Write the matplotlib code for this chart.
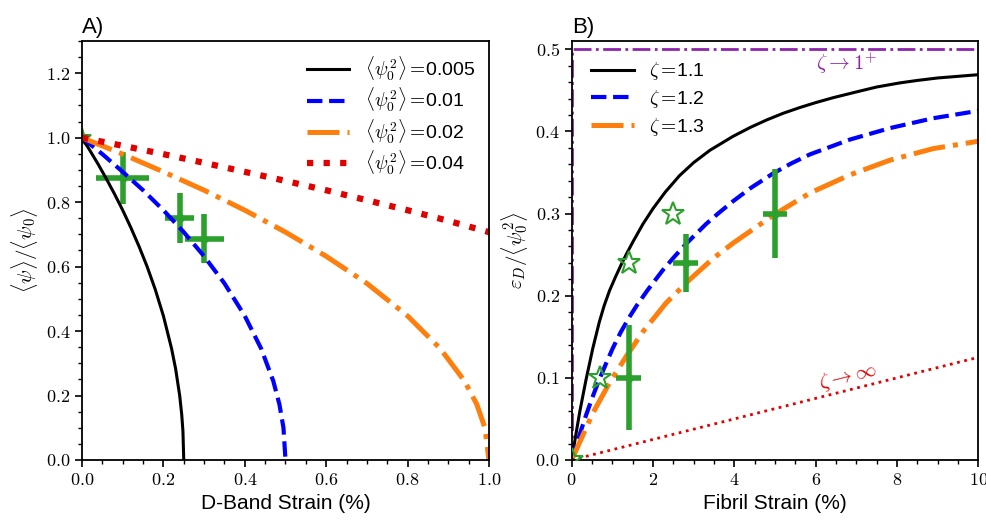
import matplotlib
matplotlib.use('Agg')
import matplotlib.pyplot as plt
from matplotlib.ticker import MultipleLocator, FuncFormatter

plt.rcParams['font.family'] = ['Liberation Sans', 'DejaVu Sans']
plt.rcParams['mathtext.fontset'] = 'cm'

# ---- panel A: order parameter vs D-band strain ----
psi0_labels = ['0.005', '0.01', '0.02', '0.04']

dband_x_005 = [0, 0.02, 0.04, 0.06, 0.08, 0.10, 0.12, 0.14, 0.16, 0.18, 0.20, 0.22, 0.23, 0.24, 0.245, 0.248, 0.25]
psi_ratio_005 = [1.0, 0.959, 0.917, 0.872, 0.825, 0.775, 0.721, 0.663, 0.600, 0.529, 0.447, 0.346, 0.283, 0.200, 0.141, 0.089, 0.0]

dband_x_01 = [0, 0.05, 0.10, 0.15, 0.20, 0.25, 0.30, 0.35, 0.40, 0.44, 0.47, 0.485, 0.495, 0.5]
psi_ratio_01 = [1.0, 0.949, 0.894, 0.837, 0.775, 0.707, 0.632, 0.548, 0.447, 0.346, 0.245, 0.173, 0.100, 0.0]

dband_x_02 = [0, 0.1, 0.2, 0.3, 0.4, 0.5, 0.6, 0.7, 0.8, 0.88, 0.94, 0.97, 0.99, 1.0]
psi_ratio_02 = [1.0, 0.949, 0.894, 0.837, 0.775, 0.707, 0.632, 0.548, 0.447, 0.346, 0.245, 0.173, 0.100, 0.0]

dband_x_04 = [0, 0.1, 0.2, 0.3, 0.4, 0.5, 0.6, 0.7, 0.8, 0.9, 1.0]
psi_ratio_04 = [1.0, 0.975, 0.949, 0.922, 0.894, 0.866, 0.837, 0.806, 0.775, 0.742, 0.707]

# experimental points in A
exp_a_x = [0.10, 0.24, 0.30]
exp_a_y = [0.875, 0.75, 0.687]
exp_a_xerr = [0.065, 0.035, 0.048]
exp_a_yerr = [0.08, 0.077, 0.075]

# ---- panel B: D-band strain / <psi0^2> vs fibril strain ----
zeta_labels = ['1.1', '1.2', '1.3']

fib_x_11 = [0, 0.1, 0.2, 0.35, 0.52, 0.68, 0.8, 0.93, 1.07, 1.21, 1.35, 1.5, 1.75, 2.0, 2.3, 2.65,
            3.0, 3.4, 3.97, 4.4, 4.8, 5.2, 5.61, 6.0, 6.43, 7.0, 7.5, 8.07, 8.5, 9.0, 9.5, 10]
eps_11 = [0.0, 0.03, 0.059, 0.097, 0.136, 0.168, 0.188, 0.206, 0.222, 0.237, 0.251, 0.265, 0.287, 0.306, 0.326, 0.346,
          0.362, 0.377, 0.394, 0.405, 0.414, 0.422, 0.429, 0.435, 0.441, 0.448, 0.454, 0.459, 0.462, 0.465, 0.467, 0.469]

fib_x_12 = [0, 0.15, 0.35, 0.5, 0.68, 0.85, 1.01, 1.2, 1.42, 1.6, 1.87, 2.24, 2.5, 2.81, 3.3, 3.6, 3.97,
            4.4, 4.96, 5.4, 5.86, 6.84, 7.83, 8.89, 10]
eps_12 = [0.0, 0.024, 0.054, 0.075, 0.098, 0.118, 0.136, 0.155, 0.174, 0.188, 0.207, 0.231, 0.246, 0.263, 0.287, 0.300, 0.315,
          0.331, 0.349, 0.361, 0.372, 0.390, 0.404, 0.416, 0.425]

fib_x_13 = [0, 0.11, 0.52, 0.92, 1.34, 1.75, 2.32, 2.89, 3.47, 3.97, 4.96, 5.86, 6.84, 7.83, 8.89, 10]
eps_13 = [0.0, 0.012, 0.057, 0.093, 0.126, 0.156, 0.191, 0.219, 0.245, 0.264, 0.298, 0.325, 0.347, 0.365, 0.379, 0.388]

fib_x_inf = [0, 10]
eps_inf = [0.0, 0.125]

fib_x_one = [0, 0, 10]
eps_one = [0.0, 0.5, 0.5]

exp_b_x = [1.4, 2.8, 5.0]
exp_b_y = [0.10, 0.24, 0.30]
exp_b_xerr = [0.3, 0.3, 0.29]
exp_b_yerr = [0.064, 0.035, 0.054]

star_b_x = [0.0, 0.7, 1.4, 2.5]
star_b_y = [0.0, 0.10, 0.24, 0.30]

green = '#2ca02c'
orange = '#ff7f0e'
red = '#e00000'
purple = '#8e24aa'

fig = plt.figure(figsize=(9.87, 5.21), dpi=100)
ax1 = fig.add_axes([0.0831, 0.1171, 0.4123, 0.8042])
ax2 = fig.add_axes([0.5792, 0.1171, 0.4120, 0.8042])

# panel A
psi_lab = r'$\langle\psi_0^2\rangle=\!$'
ax1.errorbar(exp_a_x, exp_a_y, xerr=exp_a_xerr, yerr=exp_a_yerr, fmt='o', color=green,
             ms=5, elinewidth=4, capsize=0, zorder=1)
ax1.plot([0], [1.0], '*', ms=14, mfc='none', mec=green, mew=1.5, zorder=1)
ax1.plot(dband_x_005, psi_ratio_005, '-', color='k', lw=2.2, label=psi_lab + psi0_labels[0])
ax1.plot(dband_x_01, psi_ratio_01, '--', color='blue', lw=3, label=psi_lab + psi0_labels[1])
ax1.plot(dband_x_02, psi_ratio_02, '-.', color=orange, lw=3.6, label=psi_lab + psi0_labels[2])
ax1.plot(dband_x_04, psi_ratio_04, ':', color=red, lw=4.5, label=psi_lab + psi0_labels[3])
ax1.set_xlim(0, 1.0)
ax1.set_ylim(0, 1.3)
ax1.xaxis.set_major_locator(MultipleLocator(0.2))
ax1.xaxis.set_minor_locator(MultipleLocator(0.05))
ax1.yaxis.set_major_locator(MultipleLocator(0.2))
ax1.yaxis.set_minor_locator(MultipleLocator(0.05))
ax1.xaxis.set_major_formatter(FuncFormatter(lambda v, p: r'$%.1f$' % v))
ax1.yaxis.set_major_formatter(FuncFormatter(lambda v, p: r'$%.1f$' % v))
ax1.set_xlabel('D-Band Strain (%)', fontsize=15)
ax1.set_ylabel(r'$\langle\psi\rangle/\langle\psi_0\rangle$', fontsize=15)
ax1.set_title('A)', loc='left', fontsize=16)
ax1.legend(loc='upper right', frameon=False, fontsize=14, handlelength=2.2,
           labelspacing=0.15, borderaxespad=0.3)

# panel B
zeta_lab = r'$\zeta=\!$'
ax2.plot(fib_x_one, eps_one, '-.', color=purple, lw=2, zorder=1)
ax2.plot(fib_x_11, eps_11, '-', color='k', lw=2.2, label=zeta_lab + zeta_labels[0])
ax2.plot(fib_x_12, eps_12, '--', color='blue', lw=3, label=zeta_lab + zeta_labels[1])
ax2.plot(fib_x_13, eps_13, '-.', color=orange, lw=3.6, label=zeta_lab + zeta_labels[2])
ax2.plot(fib_x_inf, eps_inf, ':', color=red, lw=2)
ax2.errorbar(exp_b_x, exp_b_y, xerr=exp_b_xerr, yerr=exp_b_yerr, fmt='o', color=green,
             ms=5, elinewidth=4, capsize=0, zorder=4)
ax2.plot(star_b_x, star_b_y, '*', ms=17, mfc='none', mec=green, mew=1.5, zorder=5)
ax2.text(6.75, 0.483, r'$\zeta\rightarrow1^{+}$', color=purple, fontsize=15,
         ha='center', va='center')
ax2.text(6.8, 0.101, r'$\zeta\rightarrow\infty$', color=red, fontsize=15,
         ha='center', va='center', rotation=14)
ax2.set_xlim(0, 10)
ax2.set_ylim(0, 0.51)
ax2.xaxis.set_major_locator(MultipleLocator(2))
ax2.xaxis.set_minor_locator(MultipleLocator(0.5))
ax2.yaxis.set_major_locator(MultipleLocator(0.1))
ax2.yaxis.set_minor_locator(MultipleLocator(0.02))
ax2.xaxis.set_major_formatter(FuncFormatter(lambda v, p: r'$%d$' % round(v)))
ax2.yaxis.set_major_formatter(FuncFormatter(lambda v, p: r'$%.1f$' % v))
ax2.set_xlabel('Fibril Strain (%)', fontsize=15)
ax2.set_ylabel(r'$\varepsilon_D/\langle\psi_0^2\rangle$', fontsize=15)
ax2.set_title('B)', loc='left', fontsize=16)
ax2.legend(loc='upper left', frameon=False, fontsize=14, handlelength=2.2,
           labelspacing=0.3, borderaxespad=0.6)

for ax in (ax1, ax2):
    for s in ax.spines.values():
        s.set_linewidth(1.3)
    ax.tick_params(which='major', length=5, width=1.2, labelsize=13)
    ax.tick_params(which='minor', length=3, width=1.0)

fig.savefig('out.png', dpi=100)
